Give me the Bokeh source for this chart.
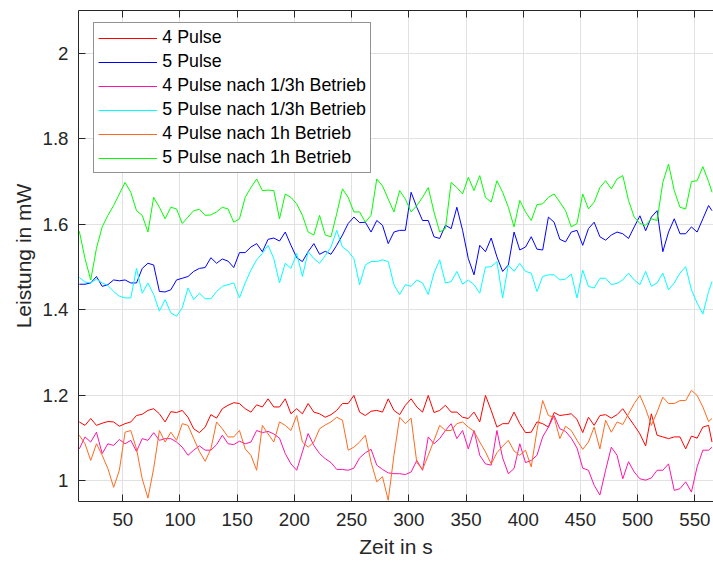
from bokeh.plotting import figure
from bokeh.models import (Range1d, FixedTicker, LinearAxis, Legend, LegendItem,
                          CustomJSTickFormatter)
from bokeh.embed import file_html
from bokeh.resources import INLINE

# Zeit in s
zeit = [12, 17, 22, 27, 32, 37, 42, 47, 52, 57,
        62, 67, 72, 77, 82, 87, 92, 97, 102, 107,
        112, 117, 122, 127, 132, 137, 142, 147, 152, 157,
        162, 167, 172, 177, 182, 187, 192, 197, 202, 207,
        212, 217, 222, 227, 232, 237, 242, 247, 252, 257,
        262, 267, 272, 277, 282, 287, 292, 297, 302, 307,
        312, 317, 322, 327, 332, 337, 342, 347, 352, 357,
        362, 367, 372, 377, 382, 387, 392, 397, 402, 407,
        412, 417, 422, 427, 432, 437, 442, 447, 452, 457,
        462, 467, 472, 477, 482, 487, 492, 497, 502, 507,
        512, 517, 522, 527, 532, 537, 542, 547, 552, 557,
        562, 565]

# Leistung in mW
pulse4 = [1.138, 1.130, 1.146, 1.130, 1.135, 1.139, 1.138, 1.128, 1.134, 1.138,
          1.153, 1.156, 1.165, 1.169, 1.157, 1.138, 1.162, 1.160, 1.165, 1.149,
          1.122, 1.113, 1.126, 1.155, 1.147, 1.169, 1.177, 1.183, 1.181, 1.169,
          1.161, 1.178, 1.173, 1.192, 1.173, 1.173, 1.192, 1.157, 1.169, 1.157,
          1.181, 1.161, 1.157, 1.149, 1.155, 1.165, 1.181, 1.181, 1.200, 1.161,
          1.153, 1.163, 1.165, 1.161, 1.192, 1.165, 1.155, 1.177, 1.192, 1.173,
          1.161, 1.200, 1.160, 1.165, 1.177, 1.161, 1.161, 1.149, 1.146, 1.161,
          1.138, 1.200, 1.165, 1.126, 1.134, 1.134, 1.161, 1.134, 1.113, 1.114,
          1.138, 1.134, 1.126, 1.160, 1.153, 1.155, 1.157, 1.144, 1.113, 1.149,
          1.130, 1.153, 1.155, 1.147, 1.155, 1.169, 1.149, 1.130, 1.110, 1.082,
          1.157, 1.107, 1.103, 1.099, 1.103, 1.103, 1.075, 1.105, 1.100, 1.126,
          1.130, 1.091]

pulse5 = [1.460, 1.460, 1.463, 1.478, 1.455, 1.459, 1.470, 1.468, 1.470, 1.463,
          1.463, 1.497, 1.509, 1.505, 1.443, 1.442, 1.447, 1.470, 1.474, 1.478,
          1.490, 1.497, 1.499, 1.522, 1.509, 1.519, 1.514, 1.499, 1.534, 1.534,
          1.547, 1.555, 1.536, 1.565, 1.568, 1.561, 1.582, 1.551, 1.522, 1.513,
          1.536, 1.555, 1.530, 1.537, 1.530, 1.551, 1.575, 1.602, 1.617, 1.604,
          1.605, 1.582, 1.609, 1.598, 1.555, 1.582, 1.586, 1.586, 1.675, 1.640,
          1.609, 1.609, 1.571, 1.567, 1.598, 1.590, 1.640, 1.586, 1.520, 1.482,
          1.551, 1.536, 1.568, 1.524, 1.490, 1.505, 1.582, 1.540, 1.547, 1.571,
          1.542, 1.540, 1.617, 1.605, 1.565, 1.559, 1.582, 1.586, 1.551, 1.590,
          1.605, 1.571, 1.563, 1.575, 1.582, 1.578, 1.567, 1.594, 1.620, 1.585,
          1.617, 1.632, 1.536, 1.582, 1.613, 1.578, 1.578, 1.594, 1.582, 1.613,
          1.644, 1.632]

pulse4_20min = [1.075, 1.103, 1.091, 1.114, 1.064, 1.087, 1.083, 1.097, 1.087, 1.095,
                1.069, 1.099, 1.095, 1.113, 1.095, 1.099, 1.099, 1.091, 1.079, 1.060,
                1.072, 1.082, 1.072, 1.072, 1.085, 1.107, 1.087, 1.085, 1.093, 1.087,
                1.091, 1.118, 1.113, 1.116, 1.110, 1.100, 1.064, 1.040, 1.025, 1.068,
                1.111, 1.083, 1.064, 1.052, 1.043, 1.027, 1.027, 1.025, 1.030, 1.054,
                1.066, 1.074, 1.037, 1.027, 1.019, 1.017, 1.017, 1.015, 1.021, 1.048,
                1.025, 1.103, 1.087, 1.099, 1.118, 1.134, 1.099, 1.118, 1.075, 1.118,
                1.060, 1.040, 1.037, 1.118, 1.054, 1.017, 1.029, 1.087, 1.043, 1.048,
                1.060, 1.103, 1.126, 1.153, 1.122, 1.116, 1.100, 1.077, 1.030, 1.025,
                0.990, 0.967, 1.025, 1.079, 1.060, 1.005, 1.045, 1.021, 1.005, 1.002,
                1.007, 1.025, 1.025, 1.040, 0.978, 0.982, 0.998, 0.974, 1.033, 1.072,
                1.072, 1.079]

pulse5_20min = [1.476, 1.465, 1.463, 1.472, 1.463, 1.457, 1.443, 1.432, 1.428, 1.428,
                1.497, 1.439, 1.463, 1.436, 1.397, 1.424, 1.393, 1.385, 1.405, 1.451,
                1.424, 1.439, 1.426, 1.426, 1.443, 1.455, 1.459, 1.463, 1.428, 1.463,
                1.493, 1.517, 1.532, 1.551, 1.520, 1.463, 1.509, 1.497, 1.532, 1.478,
                1.536, 1.520, 1.509, 1.527, 1.547, 1.586, 1.547, 1.537, 1.520, 1.459,
                1.505, 1.513, 1.513, 1.517, 1.513, 1.459, 1.436, 1.459, 1.455, 1.470,
                1.463, 1.436, 1.486, 1.517, 1.463, 1.466, 1.490, 1.460, 1.470, 1.459,
                1.439, 1.500, 1.501, 1.513, 1.428, 1.505, 1.490, 1.509, 1.490, 1.486,
                1.443, 1.478, 1.482, 1.482, 1.470, 1.472, 1.484, 1.428, 1.493, 1.455,
                1.451, 1.474, 1.474, 1.459, 1.462, 1.470, 1.486, 1.470, 1.459, 1.490,
                1.455, 1.463, 1.486, 1.447, 1.463, 1.486, 1.501, 1.447, 1.416, 1.390,
                1.443, 1.466]

pulse4_1h = [1.107, 1.087, 1.048, 1.087, 1.060, 1.029, 0.985, 1.025, 1.114, 1.118,
             1.075, 1.005, 0.960, 1.029, 1.118, 1.091, 1.114, 1.095, 1.134, 1.130,
             1.099, 1.069, 1.046, 1.075, 1.138, 1.122, 1.103, 1.103, 1.118, 1.075,
             1.060, 1.025, 1.130, 1.110, 1.091, 1.138, 1.130, 1.118, 1.153, 1.091,
             1.079, 1.091, 1.122, 1.131, 1.138, 1.149, 1.142, 1.072, 1.079, 1.091,
             1.107, 1.044, 0.998, 1.010, 0.955, 1.060, 1.149, 1.134, 1.147, 1.043,
             1.027, 1.060, 1.095, 1.130, 1.118, 1.118, 1.134, 1.138, 1.126, 1.116,
             1.091, 1.068, 1.040, 1.066, 1.081, 1.095, 1.070, 1.060, 1.072, 1.033,
             1.118, 1.188, 1.153, 1.149, 1.099, 1.128, 1.118, 1.095, 1.074, 1.091,
             1.126, 1.075, 1.142, 1.114, 1.138, 1.132, 1.157, 1.181, 1.200, 1.169,
             1.130, 1.161, 1.196, 1.181, 1.181, 1.188, 1.188, 1.212, 1.200, 1.173,
             1.139, 1.146]

pulse5_1h = [1.584, 1.520, 1.470, 1.544, 1.594, 1.621, 1.644, 1.671, 1.698, 1.675,
             1.632, 1.621, 1.582, 1.663, 1.640, 1.613, 1.640, 1.636, 1.602, 1.617,
             1.632, 1.635, 1.621, 1.622, 1.629, 1.640, 1.636, 1.605, 1.613, 1.663,
             1.686, 1.706, 1.679, 1.680, 1.679, 1.613, 1.671, 1.663, 1.648, 1.621,
             1.582, 1.575, 1.621, 1.575, 1.571, 1.625, 1.683, 1.663, 1.629, 1.629,
             1.605, 1.621, 1.706, 1.690, 1.659, 1.629, 1.679, 1.659, 1.629, 1.644,
             1.663, 1.686, 1.629, 1.582, 1.590, 1.698, 1.686, 1.671, 1.710, 1.679,
             1.714, 1.663, 1.652, 1.702, 1.675, 1.640, 1.594, 1.656, 1.629, 1.609,
             1.646, 1.648, 1.663, 1.671, 1.652, 1.632, 1.594, 1.602, 1.671, 1.636,
             1.652, 1.686, 1.702, 1.683, 1.706, 1.714, 1.656, 1.617, 1.602, 1.598,
             1.613, 1.609, 1.698, 1.741, 1.679, 1.640, 1.636, 1.700, 1.702, 1.735,
             1.700, 1.675]

labels = ["4 Pulse", "5 Pulse", "4 Pulse nach 1/3h Betrieb",
          "5 Pulse nach 1/3h Betrieb", "4 Pulse nach 1h Betrieb", "5 Pulse nach 1h Betrieb"]
colors = ["#ff0000", "#0000ff", "#ff14a8", "#00ffff", "#ff6a20", "#00ff00"]
x_ticks = [50, 100, 150, 200, 250, 300, 350, 400, 450, 500, 550]
y_ticks = [1.0, 1.2, 1.4, 1.6, 1.8, 2.0]
x_title = "Zeit in s"
y_title = "Leistung in mW"

FONT = "Liberation Sans"
AX = "#262626"

p = figure(width=713, height=561, output_backend="svg", toolbar_location=None,
           x_range=Range1d(11.3, 566.3), y_range=Range1d(0.952, 2.1),
           min_border_left=78, min_border_right=0, min_border_top=10, min_border_bottom=60,
           background_fill_color="white", border_fill_color="white")
p.outline_line_color = None

series = [pulse4, pulse5, pulse4_20min, pulse5_20min, pulse4_1h, pulse5_1h]
items = []
for lab, vals, col in zip(labels, series, colors):
    r = p.line(zeit, vals, line_color=col, line_width=1)
    items.append(LegendItem(label=lab, renderers=[r]))

for g, t in ((p.xgrid, x_ticks), (p.ygrid, y_ticks)):
    g.ticker = FixedTicker(ticks=t)
    g.grid_line_color = "#e1e1e1"
    g.grid_line_width = 1

xa = p.below[0]
ya = p.left[0]
xa.ticker = FixedTicker(ticks=x_ticks)
ya.ticker = FixedTicker(ticks=y_ticks)
ya.formatter = CustomJSTickFormatter(code="return String(Math.round(tick*10)/10);")
for a in (xa, ya):
    a.axis_line_color = AX
    a.major_tick_line_color = AX
    a.major_tick_in = 7
    a.major_tick_out = 0
    a.minor_tick_in = 0
    a.minor_tick_out = 0
    a.major_label_text_font = FONT
    a.major_label_text_font_size = "18.7px"
    a.major_label_text_color = AX
    a.axis_label_text_font = FONT
    a.axis_label_text_font_size = "21px"
    a.axis_label_text_color = AX
    a.axis_label_text_font_style = "normal"
xa.axis_label = x_title
ya.axis_label = y_title
xa.major_label_standoff = 11
ya.major_label_standoff = 10
xa.axis_label_standoff = 6
ya.axis_label_standoff = 5

# top box edge with inward ticks, no labels
top = LinearAxis(ticker=FixedTicker(ticks=x_ticks),
                 formatter=CustomJSTickFormatter(code="return '';"),
                 major_label_text_font_size="0px",
                 major_label_standoff=0, major_tick_in=7, major_tick_out=0,
                 minor_tick_in=0, minor_tick_out=0, axis_line_color=AX,
                 major_tick_line_color=AX)
p.add_layout(top, "above")

legend = Legend(items=items, location=(15.3, 327.7), margin=0, padding=4, spacing=3,
                glyph_width=59, glyph_height=20, label_height=20, label_standoff=5,
                label_text_font=FONT, label_text_font_size="17.8px", label_text_color="#000000",
                border_line_color=AX, border_line_width=1, background_fill_color="white",
                background_fill_alpha=1.0)
p.add_layout(legend)

open("out.html", "w").write(file_html(p, INLINE))
